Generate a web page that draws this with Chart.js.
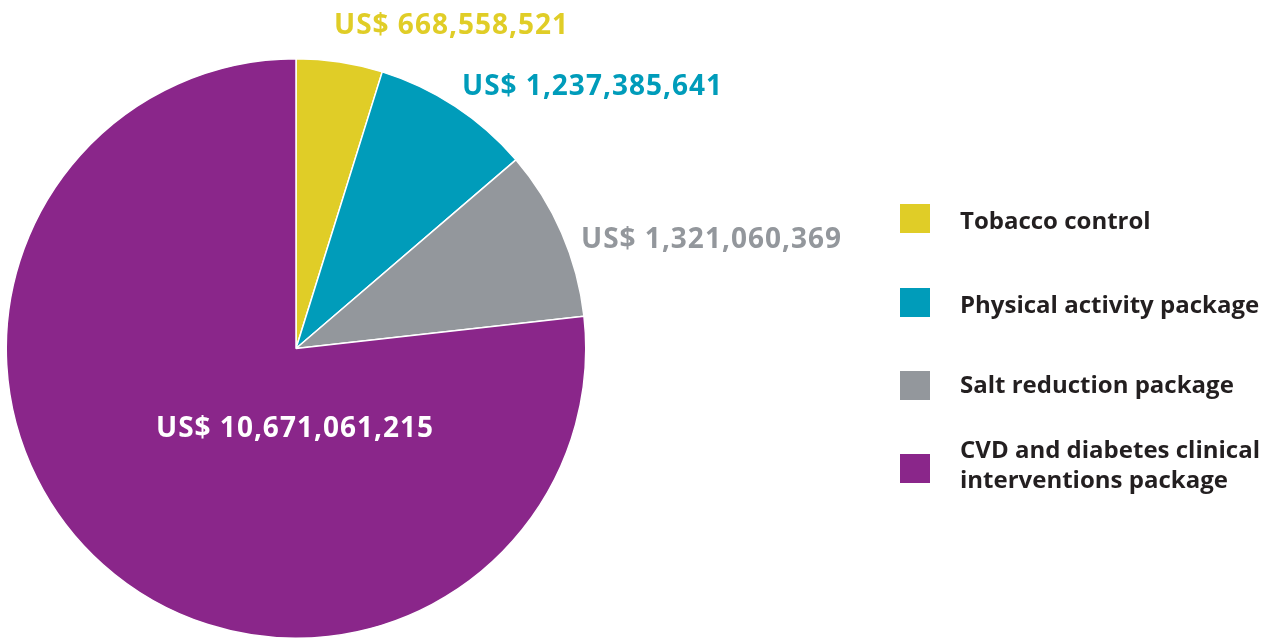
<!DOCTYPE html>
<html>
<head>
    <meta charset="utf-8">
    <title>Package costs</title>
    <script src="https://cdn.jsdelivr.net/npm/chart.js@4.4.0/dist/chart.umd.min.js"></script>
    <style>
        html, body { margin: 0; padding: 0; background: #fff; }
        #wrap { width: 1279px; height: 639px; position: relative; }
    </style>
</head>
<body>
    <div id="wrap">
        <canvas id="pie" width="1279" height="639"></canvas>
    </div>
    <script>
        const categories = ["Tobacco control", "Physical activity package", "Salt reduction package", "CVD and diabetes clinical interventions package"]
        const legendLines = [["Tobacco control"], ["Physical activity package"], ["Salt reduction package"], ["CVD and diabetes clinical", "interventions package"]]
        const costs = [668558521, 1237385641, 1321060369, 10671061215]
        const colours = ['#e0cd27', '#009cba', '#93979c', '#8a268a']
        const labelColours = ['#e0cd27', '#009cba', '#93979c', '#ffffff']
        // label left/baseline relative to pie centre
        const labelOffsets = [[38, -315], [166, -254], [285, -101], [-140, 88]]

        function money(v) {
            return 'US$ ' + v.toLocaleString('en-US')
        }

        const pieLabels = {
            id: 'pieLabels',
            afterDraw(chart) {
                const ctx = chart.ctx
                const arcs = chart.getDatasetMeta(0).data
                ctx.save()
                ctx.font = 'bold 28px "Open Sans"'
                ctx.letterSpacing = '1px'
                ctx.textAlign = 'left'
                ctx.textBaseline = 'alphabetic'
                arcs.forEach((arc, i) => {
                    ctx.fillStyle = labelColours[i]
                    ctx.fillText(money(costs[i]), arc.x + labelOffsets[i][0], arc.y + labelOffsets[i][1])
                })

                // legend on the right
                const boxX = 900, textX = 960
                const boxTops = [204, 288, 371, 454]
                const baselines = [229, 313, 393, 458]
                ctx.font = 'bold 24px "Open Sans"'
                ctx.letterSpacing = '0px'
                legendLines.forEach((lines, i) => {
                    ctx.fillStyle = colours[i]
                    ctx.fillRect(boxX, boxTops[i], 30, 29)
                    ctx.fillStyle = '#231f20'
                    lines.forEach((t, j) => ctx.fillText(t, textX, baselines[i] + j * 30))
                })
                ctx.restore()
            }
        }

        var context = document.getElementById('pie').getContext('2d')
        var pieChart = new Chart(context, {
            type: 'pie',
            data: {
                labels: categories,
                datasets: [{
                    data: costs,
                    backgroundColor: colours,
                    borderColor: '#ffffff',
                    borderWidth: 1.5,
                    hoverOffset: 0
                }]
            },
            options: {
                responsive: false,
                animation: false,
                layout: {
                    padding: { left: 5, top: 58, right: 692, bottom: 0 }
                },
                plugins: {
                    legend: { display: false },
                    tooltip: { enabled: false }
                }
            },
            plugins: [pieLabels]
        })
    </script>
</body>
</html>
